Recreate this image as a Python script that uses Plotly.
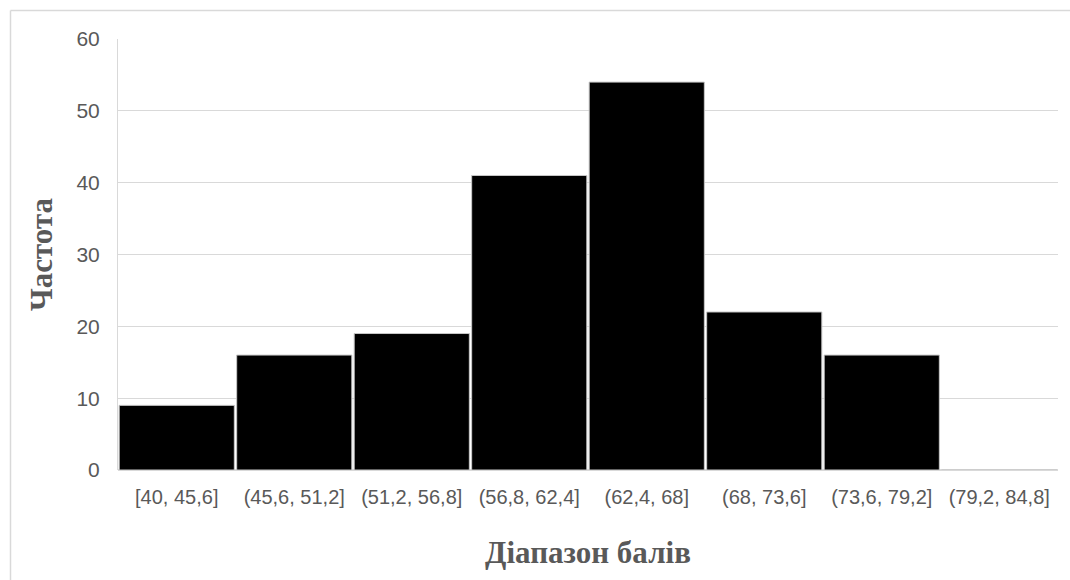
import plotly.graph_objects as go

# Score ranges and their frequencies
ranges = ["[40, 45,6]", "(45,6, 51,2]", "(51,2, 56,8]", "(56,8, 62,4]",
          "(62,4, 68]", "(68, 73,6]", "(73,6, 79,2]", "(79,2, 84,8]"]
frequency = [9, 16, 19, 41, 54, 22, 16, 0]

y_ticks = [0, 10, 20, 30, 40, 50, 60]

W, H = 1070, 580
L, R, T, B = 118, 12, 39, 110
pw, ph = W - L - R, H - T - B


def px_x(px):
    return (px - L) / pw


def px_y(py):
    return (H - B - py) / ph


fig = go.Figure(go.Bar(
    x=ranges,
    y=frequency,
    marker=dict(color="#000000", line=dict(color="#c8c8c8", width=1)),
))

# chart-area frame (left and top edges)
frame = dict(type="line", xref="paper", yref="paper",
             line=dict(color="#d9d9d9", width=1.5), layer="below")
fig.add_shape(**frame, x0=px_x(10.5), x1=px_x(1090), y0=px_y(10.5), y1=px_y(10.5))
fig.add_shape(**frame, x0=px_x(10.5), x1=px_x(10.5), y0=px_y(10.5), y1=px_y(600))

fig.update_layout(
    width=W, height=H,
    margin=dict(l=L, r=R, t=T, b=B),
    paper_bgcolor="white",
    plot_bgcolor="white",
    bargap=0.02,
    showlegend=False,
    font=dict(family="Liberation Sans", color="#595959", size=21),
)

fig.update_xaxes(
    type="category",
    showgrid=False,
    showline=False,
    ticks="",
    tickfont=dict(size=20, color="#595959"),
    ticklabelstandoff=13,
    title=dict(text="Діапазон балів", standoff=34,
               font=dict(family="Liberation Serif", size=31, color="#595959",
                         weight="bold")),
)

fig.update_yaxes(
    range=[0, 60],
    tickvals=y_ticks,
    showgrid=True,
    gridcolor="#d9d9d9",
    gridwidth=1,
    zeroline=True,
    zerolinecolor="#d9d9d9",
    showline=True,
    linecolor="#d9d9d9",
    ticks="",
    ticklabelstandoff=13,
    tickfont=dict(size=21, color="#595959"),
    title=dict(text="Частота", standoff=14,
               font=dict(family="Liberation Serif", size=31, color="#595959",
                         weight="bold")),
)

fig.write_html("out.html")
